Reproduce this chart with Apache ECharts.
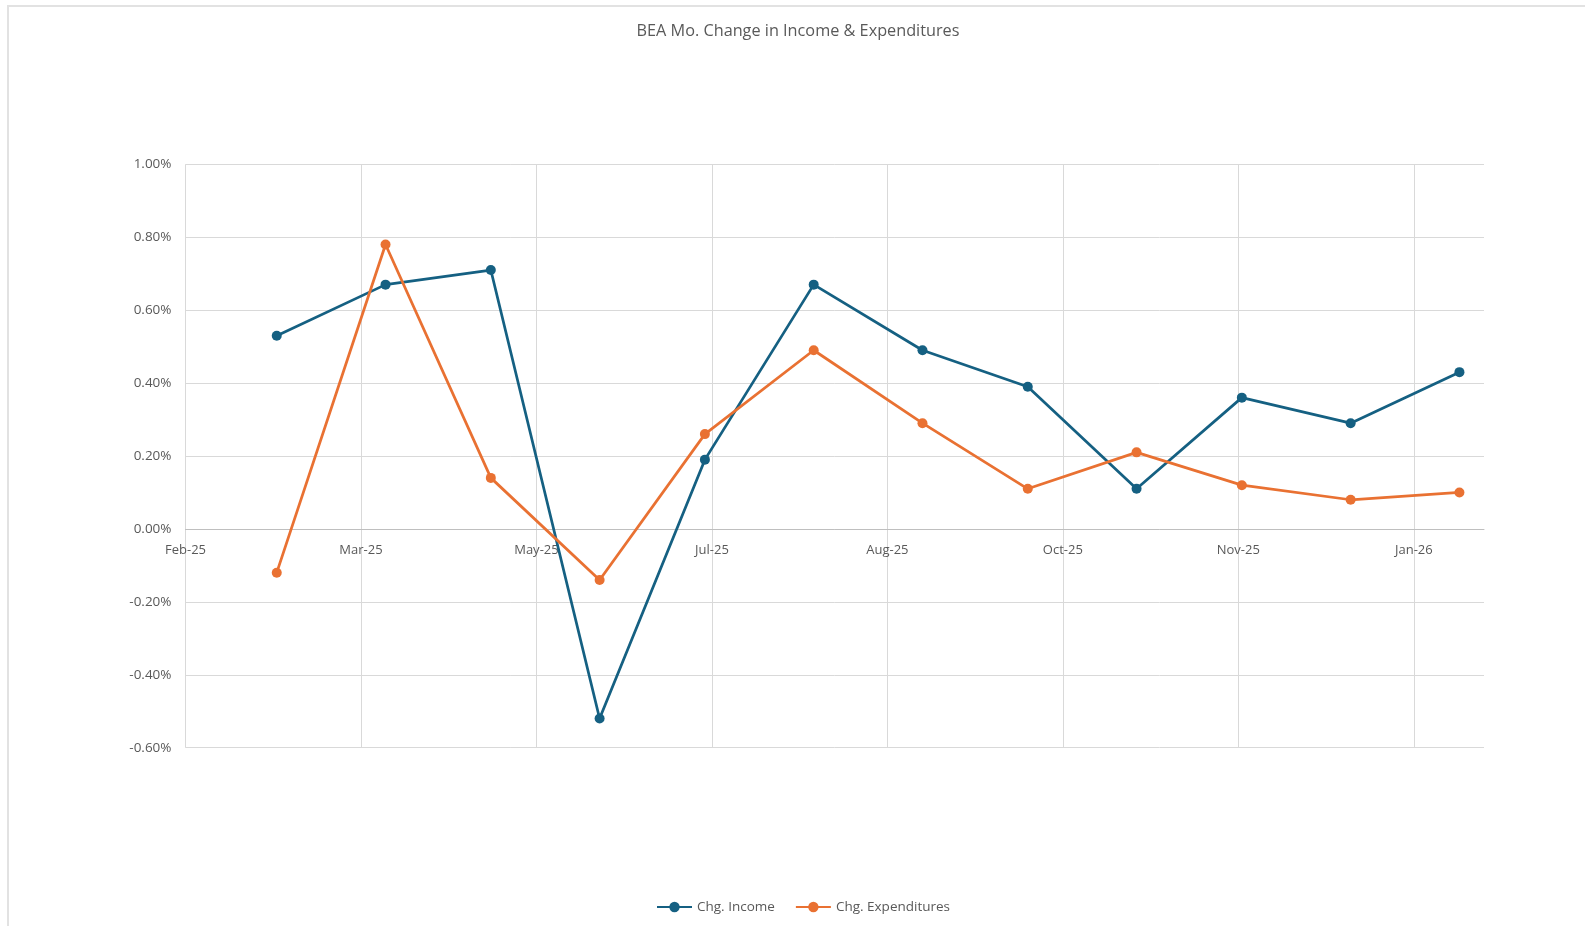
<!DOCTYPE html>
<html>
<head>
<meta charset="utf-8">
<script src="https://cdn.jsdelivr.net/npm/echarts@6/dist/echarts.min.js"></script>
<style>
html,body{margin:0;padding:0;background:#fff;}
#wrap{position:relative;width:1585px;height:926px;overflow:hidden;}
#chart{position:absolute;left:0;top:0;width:1585px;height:926px;}
#frame{position:absolute;left:7px;top:5px;width:1600px;height:940px;border-left:2px solid #e2e2e2;border-top:2px solid #e2e2e2;pointer-events:none;}
</style>
</head>
<body>
<div id="wrap"><div id="chart"></div><div id="frame"></div></div>
<script>
// ---- data ----
const dates = ['2025-02-28','2025-03-31','2025-04-30','2025-05-31','2025-06-30','2025-07-31',
               '2025-08-31','2025-09-30','2025-10-31','2025-11-30','2025-12-31','2026-01-31'];
const incomeChg = [0.53, 0.67, 0.71, -0.52, 0.19, 0.67, 0.49, 0.39, 0.11, 0.36, 0.29, 0.43];
const expendChg = [-0.12, 0.78, 0.14, -0.14, 0.26, 0.49, 0.29, 0.11, 0.21, 0.12, 0.08, 0.10];
const seriesNames = ['Chg. Income', 'Chg. Expenditures'];
const titleText = 'BEA Mo. Change in Income & Expenditures';
const axisStartDate = '2025-02-02';
const axisDays = 370;       // date-axis span in days
const axisMajorDays = 50;   // major unit in days
const yMin = -0.6, yMax = 1.0, yStep = 0.2;

// ---- helpers ----
const DAY = 86400000;
const baseMs = Date.parse(axisStartDate + 'T00:00:00Z');
const months = ['Jan','Feb','Mar','Apr','May','Jun','Jul','Aug','Sep','Oct','Nov','Dec'];
function dayOffset(d){ return Math.round((Date.parse(d + 'T00:00:00Z') - baseMs) / DAY); }
function fmtDate(v){
  const d = new Date(baseMs + v * DAY);
  return months[d.getUTCMonth()] + '-' + String(d.getUTCFullYear()).slice(2);
}
const incomeData = dates.map((d,i)=>[dayOffset(d), incomeChg[i]]);
const expendData = dates.map((d,i)=>[dayOffset(d), expendChg[i]]);

const FONT = 'Open Sans';
const TXT = '#595959';
const W = 1585, H = 926;
const G = {left:185.5, right:101, top:164.3, bottom:178.3};
const plotH = H - G.top - G.bottom;
// place the date axis on the zero line, as in the source chart
const xAxisOffset = -plotH * (0 - yMin) / (yMax - yMin);

const chart = echarts.init(document.getElementById('chart'), null, {renderer:'canvas'});
chart.setOption({
  animation:false,
  backgroundColor:'#fff',
  title:{
    text:titleText, left:793, top:18, textAlign:'center',
    textStyle:{fontFamily:FONT, fontSize:16.25, fontWeight:'normal', color:TXT}
  },
  legend:{
    bottom:7, left:651,
    itemWidth:35, itemHeight:13, itemGap:20,
    textStyle:{fontFamily:FONT, fontSize:13.5, color:TXT},
    data:seriesNames
  },
  grid:G,
  xAxis:{
    type:'value', min:0, max:axisDays, interval:axisMajorDays,
    position:'bottom', offset:xAxisOffset,
    axisLine:{show:true, onZero:false, lineStyle:{color:'#bfbfbf', width:1}},
    axisTick:{show:false},
    axisLabel:{formatter:fmtDate, showMaxLabel:false, margin:15,
               fontFamily:FONT, fontSize:13, color:TXT},
    splitLine:{show:true, showMaxLine:false, lineStyle:{color:'#d9d9d9', width:1}}
  },
  yAxis:{
    type:'value', min:yMin, max:yMax, interval:yStep,
    axisLine:{show:false}, axisTick:{show:false},
    axisLabel:{formatter:v=>v.toFixed(2)+'%', margin:14,
               fontFamily:FONT, fontSize:13.5, color:TXT},
    splitLine:{show:true, lineStyle:{color:'#d9d9d9', width:1}}
  },
  series:[
    {name:seriesNames[0], type:'line', data:incomeData, symbol:'circle', symbolSize:10,
     color:'#156082', lineStyle:{width:2.75, color:'#156082'}, itemStyle:{color:'#156082'}},
    {name:seriesNames[1], type:'line', data:expendData, symbol:'circle', symbolSize:10,
     color:'#E97132', lineStyle:{width:2.75, color:'#E97132'}, itemStyle:{color:'#E97132'}}
  ]
});
</script>
</body>
</html>
